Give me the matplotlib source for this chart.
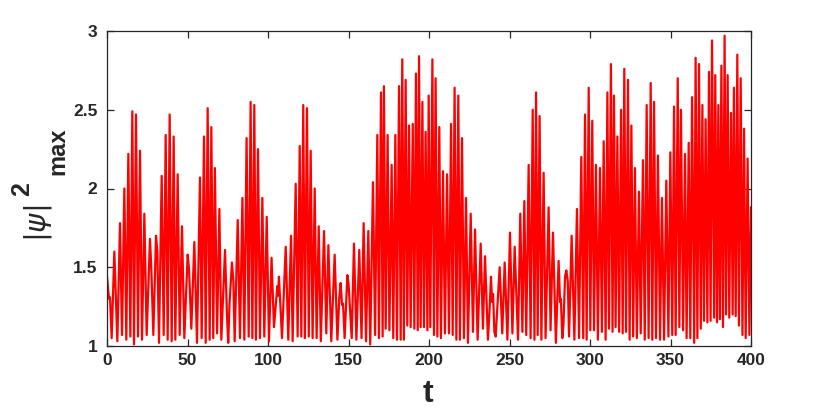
import matplotlib
matplotlib.use("Agg")
import matplotlib.pyplot as plt

# time of successive extrema and |psi|^2_max values
t = [0, 1.24, 1.86, 2.9, 4.55, 6.42, 8.07, 9.32, 10.77, 12.0, 13.25, 14.5, 15.73, 16.77, 18.0, 19.25,
     20.5, 21.74, 23.19, 24.64, 26.7, 27.5, 28.78, 30.43, 31.26, 32.3, 33.96, 35.2, 36.44, 37.68, 38.92,
     40.17, 41.41, 42.44, 43.89, 45.14, 46.58, 48.03, 50.1, 50.93, 52.38, 54.24, 55.9, 57.76, 58.8, 60.25,
     61.29, 62.53, 63.77, 64.8, 66.0, 67.0, 68.4, 69.8, 71.0, 73.3, 74.5, 75.3, 76.1, 77.6, 78.5, 79.3,
     81.2, 82.6, 84.1, 85.3, 86.7, 88.0, 89.2, 90.3, 91.5, 92.5, 93.8, 95.0, 96.5, 97.7, 99.2, 100.6,
     102.2, 103.7, 105.8, 106.3, 106.8, 107.8, 108.7, 111.0, 112.6, 114.3, 115.3, 117.2, 118.4, 119.7,
     120.7, 121.9, 122.9, 124.2, 125.3, 126.5, 127.7, 129.0, 130.2, 131.5, 132.8, 134.8, 136.2, 137.5,
     139.3, 141.4, 143.1, 144.3, 145.1, 146.0, 146.6, 147.6, 149.3, 150.0, 152.0, 153.4, 154.9, 156.7,
     158.1, 159.4, 160.9, 162.3, 163.5, 165.2, 166.5, 167.9, 168.9, 170.2, 171.2, 172.0, 173.1, 174.3,
     175.4, 176.8, 177.8, 179.1, 180.1, 181.4, 182.4, 183.4, 184.4, 185.5, 186.5, 187.6, 188.6, 189.9,
     190.9, 191.9, 193.0, 193.8, 194.8, 195.9, 196.9, 197.9, 199.0, 199.8, 200.8, 202.1, 203.1, 204.1,
     205.2, 206.4, 207.4, 208.7, 209.9, 211.2, 212.4, 213.7, 214.7, 215.9, 217.0, 218.2, 219.2, 220.5,
     221.7, 223.0, 224.2, 225.9, 227.3, 228.6, 230.2, 232.1, 233.5, 234.8, 236.6, 237.5, 238.5, 239.2,
     239.8, 240.6, 241.4, 243.9, 245.5, 247.0, 248.7, 250.3, 251.8, 253.2, 255.3, 256.7, 258.0, 259.2,
     260.4, 261.9, 263.1, 264.4, 265.5, 266.5, 267.5, 268.7, 269.8, 271.2, 272.4, 274.3, 275.5, 277.0,
     278.8, 280.5, 281.4, 281.9, 282.8, 283.5, 284.5, 285.3, 286.2, 287.0, 288.6, 290.3, 291.9, 293.2,
     294.6, 295.8, 296.9, 297.9, 299.2, 300.2, 301.4, 302.5, 303.7, 304.9, 306.2, 307.4, 308.5, 309.7,
     310.8, 311.8, 313.0, 314.0, 314.9, 315.9, 317.0, 318.1, 319.3, 320.3, 321.3, 322.4, 323.6, 324.6,
     325.7, 326.8, 327.9, 329.1, 330.4, 331.5, 332.9, 334.0, 335.2, 336.4, 337.7, 338.7, 339.8, 341.0,
     342.2, 343.5, 344.7, 346.0, 347.4, 348.7, 349.9, 351.1, 352.2, 353.2, 354.5, 355.5, 356.5, 357.8,
     359.0, 360.0, 361.3, 362.3, 363.4, 364.7, 365.6, 366.7, 367.7, 368.8, 369.8, 370.8, 371.8, 372.9,
     373.9, 374.9, 375.8, 377.1, 377.8, 378.9, 379.7, 380.7, 381.6, 382.6, 383.6, 384.5, 385.5, 386.5,
     387.6, 388.6, 389.4, 390.5, 391.5, 392.5, 393.6, 394.7, 395.7, 396.7, 397.9, 399.0, 400.0]

psi2 = [1.44, 1.30, 1.31, 1.05, 1.60, 1.03, 1.78, 1.07, 2.00, 1.04, 2.22, 1.06, 2.49, 1.01, 2.47, 1.06,
        2.24, 1.04, 1.84, 1.07, 1.68, 1.50, 1.07, 1.70, 1.60, 1.02, 2.08, 1.07, 2.34, 1.04, 2.47,
        1.03, 2.33, 1.04, 2.09, 1.07, 1.76, 1.05, 1.58, 1.49, 1.11, 1.66, 1.02, 2.07, 1.05, 2.33,
        1.02, 2.51, 1.04, 2.39, 1.05, 2.13, 1.08, 1.87, 1.04, 1.61, 1.20, 1.02, 1.27, 1.53, 1.41, 1.03,
        1.80, 1.05, 1.94, 1.04, 2.32, 1.06, 2.55, 1.05, 2.53, 1.04, 2.25, 1.05, 1.94, 1.06, 1.82, 1.03,
        1.56, 1.12, 1.38, 1.32, 1.44, 1.24, 1.05, 1.63, 1.04, 1.70, 1.03, 2.03, 1.06, 2.27,
        1.06, 2.53, 1.05, 2.51, 1.06, 2.24, 1.05, 2.00, 1.05, 1.76, 1.03, 1.73, 1.08, 1.64,
        1.03, 1.58, 1.04, 1.31, 1.40, 1.26, 1.27, 1.05, 1.45, 1.40, 1.05, 1.65, 1.04, 1.61,
        1.05, 1.78, 1.03, 1.73, 1.01, 2.04, 1.07, 2.34, 1.05, 2.61, 1.06, 2.65, 1.11, 2.34,
        1.10, 2.15, 1.05, 2.34, 1.04, 2.65, 1.04, 2.82, 1.04, 2.69, 1.13, 2.40, 1.12, 2.41,
        1.11, 2.73, 1.10, 2.84, 1.12, 2.55, 1.12, 2.36, 1.10, 2.59, 1.12, 2.82, 1.07, 2.70,
        1.06, 2.39, 1.05, 2.11, 1.08, 2.09, 1.08, 2.41, 1.07, 2.64, 1.04, 2.59, 1.04, 2.32,
        1.05, 1.94, 1.02, 1.84, 1.09, 1.74, 1.04, 1.65, 1.11, 1.57, 1.04, 1.20, 1.44, 1.28,
        1.33, 1.09, 1.06, 1.50, 1.08, 1.53, 1.04, 1.72, 1.08, 1.63, 1.04, 1.84, 1.09, 1.92,
        1.07, 2.15, 1.05, 2.50, 1.04, 2.61, 1.07, 2.46, 1.04, 2.10, 1.05, 1.88, 1.10, 1.72,
        1.02, 1.54, 1.28, 1.30, 1.05, 1.13, 1.44, 1.48, 1.41, 1.06, 1.70, 1.04, 1.87, 1.05,
        2.20, 1.05, 2.47, 1.04, 2.64, 1.10, 2.43, 1.10, 2.15, 1.04, 2.13, 1.09, 2.30, 1.04,
        2.61, 1.11, 2.79, 1.09, 2.59, 1.12, 2.33, 1.09, 2.50, 1.08, 2.76, 1.09, 2.69, 1.04,
        2.40, 1.06, 2.13, 1.05, 1.98, 1.08, 2.18, 1.04, 2.53, 1.05, 2.67, 1.04, 2.55, 1.05,
        2.21, 1.04, 1.94, 1.04, 2.05, 1.06, 2.23, 1.07, 2.52, 1.07, 2.70, 1.12, 2.50, 1.10,
        2.22, 1.05, 2.29, 1.05, 2.58, 1.02, 2.83, 1.05, 2.79, 1.11, 2.53, 1.16, 2.44, 1.15,
        2.74, 1.16, 2.94, 1.18, 2.72, 1.15, 2.53, 1.17, 2.78, 1.12, 2.97, 1.20, 2.72, 1.18,
        2.48, 1.20, 2.64, 1.19, 2.85, 1.13, 2.70, 1.07, 2.38, 1.05, 2.19, 1.07, 1.88]

xticks = [0, 50, 100, 150, 200, 250, 300, 350, 400]
yticks = [1, 1.5, 2, 2.5, 3]
ytick_labels = ["1", "1.5", "2", "2.5", "3"]

plt.rcParams['font.family'] = ['Liberation Sans', 'DejaVu Sans']

fig = plt.figure(figsize=(8.3, 4.13), dpi=100)
ax = fig.add_axes([107/830, 1-346/413, (751-107)/830, (346-31)/413])
ax.plot(t, psi2, color='#ff0000', lw=1.6)
ax.set_xlim(0, 400)
ax.set_ylim(1, 3)
ax.set_xticks(xticks)
ax.set_yticks(yticks)
ax.set_yticklabels(ytick_labels)
ax.tick_params(direction='in', length=5, width=0.9, top=True, right=True,
               labelsize=12.5, colors='#262626', pad=5)
ax.tick_params(axis='y', pad=7)
for lab in ax.get_xticklabels() + ax.get_yticklabels():
    lab.set_fontweight('bold')
for s in ax.spines.values():
    s.set_color('#262626')
    s.set_linewidth(0.9)

fig.text(428/830, 1-394/413, 't', fontsize=23, fontweight='bold', color='#262626',
         ha='center', va='center')
fig.text(38/830, 1-223/413, r'$|\psi|$', fontsize=21, color='#262626',
         rotation=90, ha='center', va='center')
fig.text(22.5/830, 1-189.5/413, '2', fontsize=18, fontweight='bold', color='#262626',
         rotation=90, ha='center', va='center')
fig.text(57.5/830, 1-151.5/413, 'max', fontsize=17, fontweight='bold', color='#262626',
         rotation=90, ha='center', va='center')

fig.savefig('out.png', dpi=100)
